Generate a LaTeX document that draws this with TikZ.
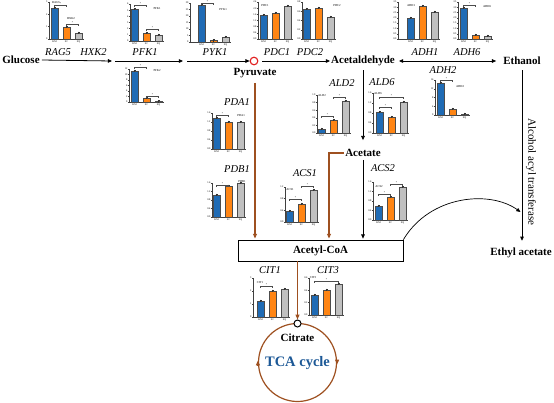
\documentclass[tikz,border=0pt]{standalone}
\usepackage{fontspec}
\setmainfont{Liberation Serif}
\usetikzlibrary{arrows.meta}
\definecolor{kmblue}{RGB}{31,107,181}
\definecolor{scorange}{RGB}{255,133,20}
\definecolor{sqgray}{RGB}{192,192,192}
\definecolor{brownline}{RGB}{158,80,32}
\definecolor{tcablue}{RGB}{28,88,150}
\definecolor{pyrred}{RGB}{225,30,30}
\tikzset{
 metab/.style={font=\fontsize{11}{13}\selectfont\bfseries, inner sep=0pt},
 gene/.style={font=\fontsize{10.5}{12}\selectfont\itshape, inner sep=0pt},
 flow/.style={draw=black, line width=0.8pt, -{Triangle[length=4.2pt,width=3.6pt]}},
 dflow/.style={draw=black, line width=0.8pt, {Triangle[length=4.2pt,width=3.6pt]}-{Triangle[length=4.2pt,width=3.6pt]}},
 bflow/.style={draw=brownline, line width=1.2pt, -{Triangle[length=4.8pt,width=3.8pt]}},
 axisline/.style={draw=black!75, line width=0.35pt},
 ticklab/.style={font=\fontsize{2.6}{3}\selectfont, inner sep=0.3pt},
 ctitle/.style={font=\fontsize{3}{3.5}\selectfont, inner sep=0.3pt},
 barKM/.style={fill=kmblue, draw=black!70, line width=0.3pt},
 barSC/.style={fill=scorange, draw=black!70, line width=0.3pt},
 barSQ/.style={fill=sqgray, draw=black!70, line width=0.3pt},
 errbar/.style={draw=black!80, line width=0.3pt},
 sigline/.style={draw=black!70, line width=0.3pt}
}
% #1 axis x, #2 base y, #3 top y, #4 first bar x, #5 #6 #7 bar tops, #8 tick labels
\newcommand{\bchart}[8]{%
 \draw[axisline] (#1,#3) -- (#1,#2) -- ({#4+33},#2);
 \foreach \lab [count=\n] in {#8} {\xdef\chartnticks{\n}}
 \pgfmathsetmacro\chartstep{(#2-#3)/(\chartnticks-1)}
 \foreach \lab [count=\i from 0] in {#8} {
   \draw[axisline] (#1,{#2-\i*\chartstep}) -- ++(-1,0) node[ticklab,left]{\lab};}
 \draw[barKM] (#4,#2) rectangle ({#4+7},#5);
 \draw[barSC] ({#4+12},#2) rectangle ({#4+19},#6);
 \draw[barSQ] ({#4+24},#2) rectangle ({#4+31},#7);
 \foreach \bt/\dx in {#5/3.5,#6/15.5,#7/27.5} {
   \draw[errbar] ({#4+\dx},{\bt-1.3}) -- ({#4+\dx},{\bt+1.3})
                 ({#4+\dx-1},{\bt-1.3}) -- ({#4+\dx+1},{\bt-1.3});}
 \node[ticklab] at ({#4+3.5},{#2+2.6}) {KM};
 \node[ticklab] at ({#4+15.5},{#2+2.6}) {SC};
 \node[ticklab] at ({#4+27.5},{#2+2.6}) {SQ};
}
\newcommand{\sigbr}[3]{%
 \draw[sigline] (#1,{#3+1.5}) -- (#1,#3) -- (#2,#3) -- (#2,{#3+1.5});
 \node[ticklab] at ({(#1+#2)/2},{#3-1}) {*};
}
\begin{document}
\begin{tikzpicture}[x=1pt,y=-1pt]
\useasboundingbox (0,0) rectangle (554,402);

% ---------- bar charts ----------
\bchart{49}{39}{2}{51}{8}{27}{33}{0,1,2,3}
\sigbr{54.5}{66.5}{5}\sigbr{66.5}{78.5}{24}
\node[ctitle] at (56,3) {RAG5};
\node[ctitle] at (71,19) {HXK2};

\bchart{130}{41}{4}{131}{9}{33}{35}{0,1,2,3,4,5,6}
\sigbr{134.5}{146.5}{5}\sigbr{146.5}{158.5}{29}
\node[ctitle] at (157,9) {PFK1};

\bchart{129}{102}{69}{131}{71}{98}{101.3}{0,2,4,6,8,10,12}
\sigbr{134.5}{146.5}{67}\sigbr{146.5}{158.5}{96}
\node[ctitle] at (157,71) {PFK2};

\bchart{190}{42}{3}{198}{5}{40.5}{37}{0,5,10,15,20,25,30}
\sigbr{201.5}{213.5}{3}
\node[ctitle] at (223,10) {PYK1};

\bchart{258}{39}{2}{260}{15}{13}{6}{0.0,0.4,0.8,1.2,1.6,2.0,2.4}
\node[ctitle] at (265,6) {PDC1};

\bchart{302}{39}{2}{303}{9}{8}{17}{0.0,0.2,0.4,0.6,0.8}
\node[ctitle] at (337,6) {PDC2};

\bchart{398}{39}{2}{407}{18}{6}{12}{0.0,0.5,1.0,1.5,2.0,2.5,3.0,3.5}
\node[ctitle] at (411,6) {ADH1};

\bchart{458}{39}{2}{460}{8}{35}{36}{0.0,0.5,1.0,1.5,2.0,2.5,3.0,3.5}
\sigbr{463.5}{475.5}{5}
\node[ctitle] at (487,7) {ADH6};

\bchart{435}{115}{80}{437}{83}{109}{114}{0,4,8,12,16}
\sigbr{440.5}{452.5}{80}
\node[ctitle] at (460,87) {ADH2};

\bchart{317}{133}{95}{318}{129}{120}{101}{0.0,0.2,0.4,0.6,0.8,1.0}
\sigbr{321.5}{333.5}{116}\sigbr{333.5}{345.5}{97}
\node[ctitle] at (322,96) {ALD2};

\bchart{373}{133}{93}{376}{112}{117}{102}{0.0,0.4,0.8,1.2,1.6}
\sigbr{379.5}{391.5}{107}\sigbr{379.5}{403.5}{97}
\node[ctitle] at (378,94) {ALD6};

\bchart{212}{149}{113}{213}{118}{122}{122}{0.0,0.4,0.8,1.2,1.6}
\sigbr{216.5}{228.5}{115}
\node[ctitle] at (241,116) {PDA1};

\bchart{212}{217}{183}{213}{195}{186}{183}{0.0,0.4,0.8,1.2,1.6}
\sigbr{216.5}{228.5}{185}
\node[ctitle] at (242,182) {PDB1};

\bchart{285}{222}{187}{286}{211}{204}{190}{0.0,0.4,0.8,1.2}
\sigbr{289.5}{301.5}{199}\sigbr{301.5}{313.5}{186}
\node[ctitle] at (290,190) {ACS1};

\bchart{373}{220}{182}{375}{206}{197}{187}{0.0,0.4,0.8,1.2,1.6}
\sigbr{378.5}{390.5}{194}\sigbr{390.5}{402.5}{184}
\node[ctitle] at (379,187) {ACS2};

\bchart{253}{317}{278}{257}{301}{291}{289}{0,1,2,3}
\sigbr{260.5}{272.5}{286}
\node[ctitle] at (260,283) {CIT1};

\bchart{309}{315}{278}{311}{295}{290}{284}{0.0,0.2,0.4,0.6}
\sigbr{314.5}{338.5}{281}
\node[ctitle] at (313,278) {CIT3};

% ---------- metabolites ----------
\node[metab] (glucose) at (21,60) {Glucose};
\node[metab] (acetald) at (363,61) {Acetaldehyde};
\node[metab] (ethanol) at (522,61) {Ethanol};
\node[metab] (pyruvate) at (255,73) {Pyruvate};
\node[metab] (acetate) at (363,153) {Acetate};
\node[metab, draw, line width=0.7pt, minimum width=165pt, minimum height=21pt] (acoa) at (320.5,250.5) {Acetyl-CoA};
\node[metab] (ethylac) at (521,253) {Ethyl acetate};
\node[circle, draw=pyrred, line width=1.1pt, minimum size=7.6pt, inner sep=0pt] (pyrc) at (254,61) {};
\node[circle, draw=brownline, line width=1.2pt, minimum size=78pt, inner sep=0pt] (tcacirc) at (297.5,362.5) {};
\node[circle, draw=black, line width=1pt, fill=white, minimum size=7pt, inner sep=0pt] (citc) at (297.5,323.5) {};
\node[metab] (citrate) at (297.5,338) {Citrate};
\node[font=\fontsize{14.5}{16}\selectfont\bfseries, text=tcablue, inner sep=0pt] (tca) at (297.5,363) {TCA cycle};
\node[rotate=-90, font=\fontsize{11}{13}\selectfont, inner sep=0pt] (aat) at (531,172) {Alcohol acyl transferase};

% ---------- gene labels ----------
\node[gene] (gRAG5) at (58,52) {RAG5};
\node[gene] (gHXK2) at (93.5,52) {HXK2};
\node[gene] (gPFK1) at (145,52) {PFK1};
\node[gene] (gPYK1) at (215,52) {PYK1};
\node[gene] (gPDC1) at (277,52) {PDC1};
\node[gene] (gPDC2) at (310,52) {PDC2};
\node[gene] (gADH1) at (425,52) {ADH1};
\node[gene] (gADH6) at (467,52) {ADH6};
\node[gene] (gADH2) at (443,70) {ADH2};
\node[gene] (gPDA1) at (237,102) {PDA1};
\node[gene] (gPDB1) at (237,169) {PDB1};
\node[gene] (gALD2) at (342,83) {ALD2};
\node[gene] (gALD6) at (382,82) {ALD6};
\node[gene] (gACS1) at (305,173) {ACS1};
\node[gene] (gACS2) at (383,168) {ACS2};
\node[gene] (gCIT1) at (270,270) {CIT1};
\node[gene] (gCIT3) at (328,270) {CIT3};

% ---------- connectors ----------
\coordinate (hxkend) at (112,61);
\coordinate (pfkstart) at (115,61);
\coordinate (pfkend) at (183,61);
\coordinate (pykstart) at (187,61);
\coordinate (bend1) at (329,153);
\coordinate (aatend) at (520.5,212);

\draw[flow] ([xshift=2pt]glucose.east) -- (hxkend);
\draw[flow] (pfkstart) -- (pfkend);
\draw[flow] (pykstart) -- (pyrc.west);
\draw[flow, shorten <=4pt, shorten >=1pt] (pyrc.east) -- (acetald.west);
\draw[dflow, shorten <=4pt, shorten >=7pt] (acetald.east) -- (ethanol.west);
\draw[flow, shorten <=4pt, shorten >=9pt] (acetald.south) -- (acetate.north);
\draw[flow, shorten <=3pt, shorten >=1pt] (acetate.south) -- (acetate.south |- acoa.north);
\draw[bflow, shorten <=5pt, shorten >=1pt] (pyruvate.south) -- (pyruvate.south |- acoa.north);
\draw[bflow, shorten >=1pt] ([xshift=-1.5pt]acetate.west) -- (bend1) -- (bend1 |- acoa.north);
\draw[flow, shorten <=5pt, shorten >=7pt] (ethanol.south) -- (ethanol.south |- ethylac.north);
\draw[bflow] (citc.north |- acoa.south) -- (citc.north);
\draw[flow, line width=0.7pt] (acoa.north east) .. controls (430,195) and (490,190) .. (aatend);
\draw[bflow] ([yshift=-3pt]tcacirc.west) -- ([yshift=2pt]tcacirc.west);
\draw[bflow] ([yshift=3pt]tcacirc.east) -- ([yshift=-2pt]tcacirc.east);
\end{tikzpicture}
\end{document}
